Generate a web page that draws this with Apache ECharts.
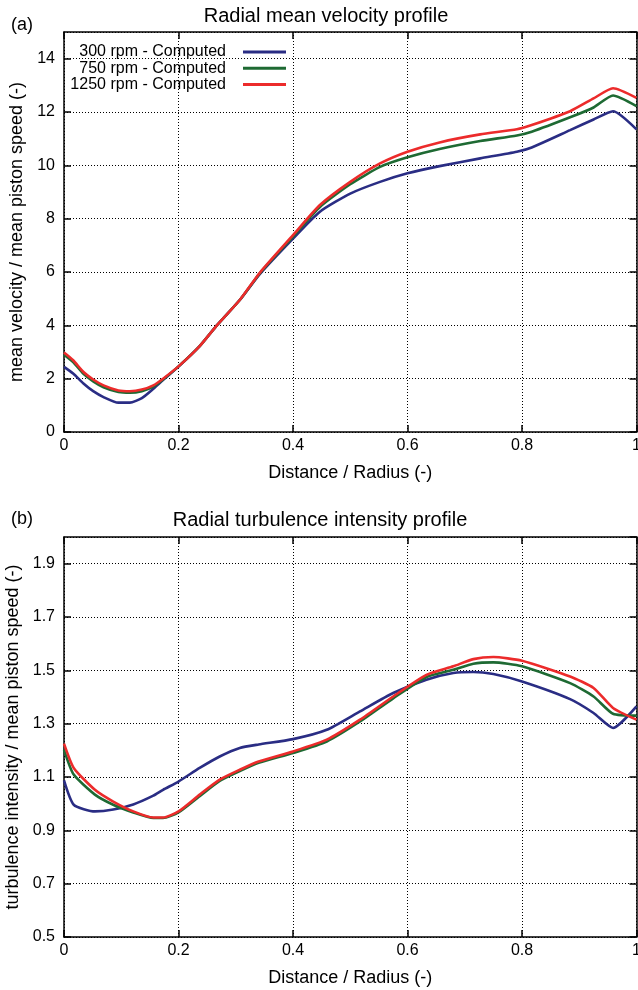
<!DOCTYPE html>
<html>
<head>
<meta charset="utf-8">
<script src="https://cdn.jsdelivr.net/npm/echarts@6/dist/echarts.min.js"></script>
<style>
html,body{margin:0;padding:0;background:#fff;}
#chart{width:638px;height:990px;}
</style>
</head>
<body>
<div id="chart"></div>
<script>
// ---------- data ----------
var seriesNames = ['300 rpm - Computed', '750 rpm - Computed', '1250 rpm - Computed'];
var colors = ['#2a2d84', '#1e6a33', '#ec2b2b'];

// (a) Radial mean velocity profile
var xVel = [0, 0.016, 0.034, 0.051, 0.069, 0.095, 0.115, 0.136, 0.156, 0.173, 0.2, 0.237, 0.267, 0.307, 0.342, 0.4, 0.447, 0.5, 0.552, 0.6, 0.656, 0.727, 0.791, 0.817, 0.884, 0.925, 0.959, 1.0];
var vel300  = [2.44, 2.19, 1.82, 1.53, 1.31, 1.10, 1.10, 1.27, 1.62, 1.95, 2.45, 3.22, 4.0, 4.95, 5.92, 7.25, 8.26, 8.94, 9.38, 9.70, 9.97, 10.26, 10.51, 10.67, 11.32, 11.72, 12.03, 11.35];
var vel750  = [2.90, 2.62, 2.18, 1.90, 1.68, 1.50, 1.47, 1.53, 1.70, 1.97, 2.46, 3.22, 4.0, 4.95, 5.95, 7.33, 8.44, 9.29, 9.94, 10.30, 10.61, 10.91, 11.12, 11.26, 11.80, 12.17, 12.62, 12.22];
var vel1250 = [2.98, 2.69, 2.25, 1.97, 1.75, 1.56, 1.53, 1.59, 1.75, 2.0, 2.46, 3.22, 4.0, 4.95, 5.97, 7.38, 8.51, 9.38, 10.07, 10.51, 10.86, 11.16, 11.35, 11.51, 12.03, 12.51, 12.89, 12.53];

// (b) Radial turbulence intensity profile
var xTurb = [0, 0.017, 0.054, 0.086, 0.121, 0.156, 0.173, 0.2, 0.237, 0.272, 0.307, 0.34, 0.4, 0.459, 0.517, 0.575, 0.633, 0.68, 0.715, 0.75, 0.8, 0.884, 0.925, 0.959, 1.0];
var turb300  = [1.087, 0.996, 0.971, 0.978, 0.997, 1.030, 1.052, 1.083, 1.134, 1.177, 1.209, 1.222, 1.242, 1.277, 1.346, 1.415, 1.465, 1.490, 1.494, 1.486, 1.458, 1.392, 1.340, 1.284, 1.365];
var turb750  = [1.202, 1.109, 1.034, 0.996, 0.967, 0.946, 0.946, 0.967, 1.028, 1.085, 1.122, 1.153, 1.190, 1.233, 1.308, 1.395, 1.475, 1.502, 1.525, 1.530, 1.515, 1.452, 1.402, 1.337, 1.330];
var turb1250 = [1.225, 1.134, 1.052, 1.008, 0.971, 0.948, 0.948, 0.971, 1.034, 1.090, 1.127, 1.158, 1.196, 1.240, 1.315, 1.402, 1.483, 1.515, 1.542, 1.550, 1.536, 1.477, 1.434, 1.359, 1.315];

// axis ticks
var xTicks = {min: 0, max: 1, interval: 0.2};
var velTicks = {min: 0, max: 15, interval: 2};
var turbTicks = {min: 0.5, max: 2.0, interval: 0.2};

// ---------- build ----------
function pairs(xs, ys){ return xs.map(function(x,i){ return [x, ys[i]]; }); }
var FONT = 'Liberation Sans, Arial, Helvetica, sans-serif';
var dotted = {color:'#000', width:1, type:[1,2]};

function xAxisMain(gi, name){
  return {type:'value', gridIndex:gi, min:xTicks.min, max:xTicks.max, interval:xTicks.interval,
    position:'bottom', name:name, nameLocation:'middle', nameGap:32,
    nameTextStyle:{fontFamily:FONT, fontSize:18, color:'#000'},
    axisLine:{show:true, onZero:false, lineStyle:{color:'#000', width:1.5}},
    axisTick:{show:true, inside:true, length:7, lineStyle:{color:'#000', width:1.5}},
    axisLabel:{fontFamily:FONT, fontSize:16, color:'#000', margin:6,
      formatter:function(v){ return String(+v.toFixed(1)); }},
    splitLine:{show:true, lineStyle:dotted}};
}
function xAxisMirror(gi){
  return {type:'value', gridIndex:gi, min:xTicks.min, max:xTicks.max, interval:xTicks.interval,
    position:'top',
    axisLine:{show:true, onZero:false, lineStyle:{color:'#000', width:1.5}},
    axisTick:{show:true, inside:true, length:7, lineStyle:{color:'#000', width:1.5}},
    axisLabel:{show:false}, splitLine:{show:false}};
}
function yAxisMain(gi, t, name, dec){
  return {type:'value', gridIndex:gi, min:t.min, max:t.max, interval:t.interval,
    position:'left', name:name, nameLocation:'middle', nameGap:35, nameRotate:90,
    nameTextStyle:{fontFamily:FONT, fontSize:18, color:'#000'},
    axisLine:{show:true, onZero:false, lineStyle:{color:'#000', width:1.5}},
    axisTick:{show:true, inside:true, length:7, lineStyle:{color:'#000', width:1.5}},
    axisLabel:{fontFamily:FONT, fontSize:16, color:'#000', margin:9, showMaxLabel:false,
      formatter:function(v){ return v.toFixed(dec); }},
    splitLine:{show:true, lineStyle:dotted}};
}
function yAxisMirror(gi, t){
  return {type:'value', gridIndex:gi, min:t.min, max:t.max, interval:t.interval,
    position:'right',
    axisLine:{show:true, onZero:false, lineStyle:{color:'#000', width:1.5}},
    axisTick:{show:true, inside:true, length:7, lineStyle:{color:'#000', width:1.5}},
    axisLabel:{show:false}, splitLine:{show:false}};
}
function lineSeries(name, color, data, xi, yi){
  return {type:'line', name:name, xAxisIndex:xi, yAxisIndex:yi, data:data,
    showSymbol:false, symbol:'none', smooth:0.2,
    lineStyle:{color:color, width:2.6}, itemStyle:{color:color}, z:3};
}

var velSets = [vel300, vel750, vel1250];
var turbSets = [turb300, turb750, turb1250];
var series = [];
for (var i=0;i<3;i++) series.push(lineSeries(seriesNames[i], colors[i], pairs(xVel, velSets[i]), 0, 0));
for (var j=0;j<3;j++) series.push(lineSeries(seriesNames[j], colors[j], pairs(xTurb, turbSets[j]), 2, 2));

var option = {
  animation:false,
  backgroundColor:'#fff',
  textStyle:{fontFamily:FONT},
  title:[
    {text:'(a)', left:6, top:11, textStyle:{fontFamily:FONT, fontSize:18, fontWeight:'normal', color:'#000'}},
    {text:'Radial mean velocity profile', left:321, top:1, textAlign:'center',
      textStyle:{fontFamily:FONT, fontSize:20, fontWeight:'normal', color:'#000'}},
    {text:'(b)', left:6, top:505, textStyle:{fontFamily:FONT, fontSize:18, fontWeight:'normal', color:'#000'}},
    {text:'Radial turbulence intensity profile', left:315, top:505, textAlign:'center',
      textStyle:{fontFamily:FONT, fontSize:20, fontWeight:'normal', color:'#000'}}
  ],
  legend:{
    data:seriesNames, orient:'vertical', align:'right', right:347, top:39,
    icon:'rect', itemWidth:43, itemHeight:3, itemGap:0.3, padding:5,
    textStyle:{fontFamily:FONT, fontSize:16, color:'#000', padding:[0,12,0,0]},
    selectedMode:false
  },
  grid:[
    {left:64, right:1.5, top:32, height:400, show:false, containLabel:false, outerBoundsMode:'none'},
    {left:64, right:1.5, top:537, height:400, show:false, containLabel:false, outerBoundsMode:'none'}
  ],
  xAxis:[xAxisMain(0,'Distance / Radius (-)'), xAxisMirror(0), xAxisMain(1,'Distance / Radius (-)'), xAxisMirror(1)],
  yAxis:[yAxisMain(0, velTicks, 'mean velocity / mean piston speed (-)', 0), yAxisMirror(0, velTicks),
         yAxisMain(1, turbTicks, 'turbulence intensity / mean piston speed (-)', 1), yAxisMirror(1, turbTicks)],
  series:series
};
var chart = echarts.init(document.getElementById('chart'), null, {renderer:'canvas'});
chart.setOption(option);
</script>
</body>
</html>
